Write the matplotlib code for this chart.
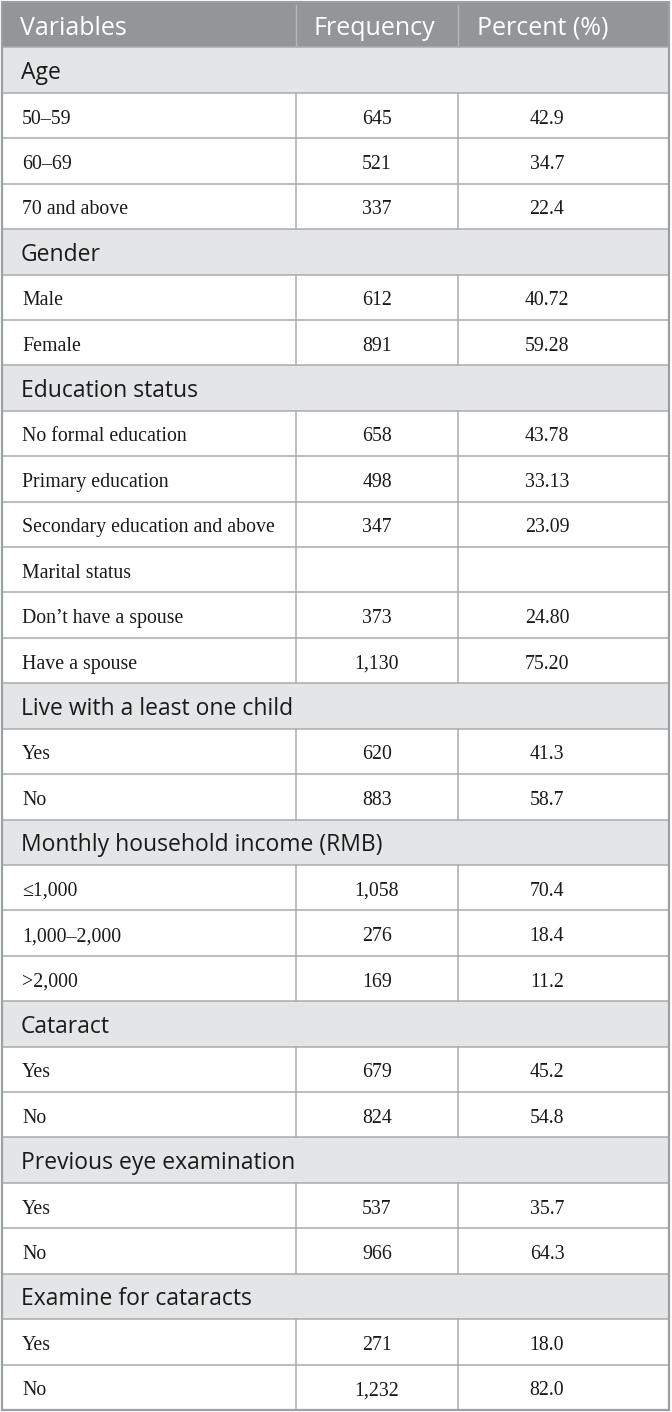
import matplotlib
matplotlib.use("Agg")
import matplotlib.pyplot as plt
from matplotlib.patches import Rectangle

# ---- data ----
header = ["Variables", "Frequency", "Percent (%)"]

age_labels = ["50–59", "60–69", "70 and above"]
age_freq = [645, 521, 337]
age_pct = ["42.9", "34.7", "22.4"]

gender_labels = ["Male", "Female"]
gender_freq = [612, 891]
gender_pct = ["40.72", "59.28"]

edu_labels = ["No formal education", "Primary education", "Secondary education and above"]
edu_freq = [658, 498, 347]
edu_pct = ["43.78", "33.13", "23.09"]

marital_labels = ["Marital status", "Don’t have a spouse", "Have a spouse"]
marital_freq = [None, 373, 1130]
marital_pct = ["", "24.80", "75.20"]

child_labels = ["Yes", "No"]
child_freq = [620, 883]
child_pct = ["41.3", "58.7"]

income_labels = ["≤1,000", "1,000–2,000", ">2,000"]
income_freq = [1058, 276, 169]
income_pct = ["70.4", "18.4", "11.2"]

cataract_labels = ["Yes", "No"]
cataract_freq = [679, 824]
cataract_pct = ["45.2", "54.8"]

prev_labels = ["Yes", "No"]
prev_freq = [537, 966]
prev_pct = ["35.7", "64.3"]

exam_labels = ["Yes", "No"]
exam_freq = [271, 1232]
exam_pct = ["18.0", "82.0"]

sections = [
    ("Age", age_labels, age_freq, age_pct),
    ("Gender", gender_labels, gender_freq, gender_pct),
    ("Education status", edu_labels, edu_freq, edu_pct),
    (None, marital_labels, marital_freq, marital_pct),
    ("Live with a least one child", child_labels, child_freq, child_pct),
    ("Monthly household income (RMB)", income_labels, income_freq, income_pct),
    ("Cataract", cataract_labels, cataract_freq, cataract_pct),
    ("Previous eye examination", prev_labels, prev_freq, prev_pct),
    ("Examine for cataracts", exam_labels, exam_freq, exam_pct),
]

# ---- build rows ----
rows = [("header", header)]
for title, labels, freq, pct in sections:
    if title is not None:
        rows.append(("section", title))
    for l, f, p in zip(labels, freq, pct):
        rows.append(("data", (l, "" if f is None else f"{f:,}", p)))

W, H = 672, 1412
fig = plt.figure(figsize=(W / 100, H / 100), dpi=100)
ax = fig.add_axes([0, 0, 1, 1])
ax.set_xlim(0, W)
ax.set_ylim(H, 0)
ax.axis("off")

SANS = ["Open Sans", "DejaVu Sans"]
SERIF = ["Liberation Serif", "DejaVu Serif"]
HEAD_BG = "#939598"
SEC_BG = "#e4e5e6"
LINE = "#a9abae"

x0, x1, x2, x3 = 2, 296, 458, 669
top, bottom = 2, 1410
n = len(rows)
rh = (bottom - top) / n

for i, (kind, content) in enumerate(rows):
    y = top + i * rh
    yc = y + rh / 2
    if kind == "header":
        ax.add_patch(Rectangle((x0, y), x3 - x0, rh, facecolor=HEAD_BG, edgecolor="none", zorder=1))
        for xv in (x1, x2):
            ax.plot([xv, xv], [y + 3, y + rh], color="#b4b6b8", lw=1.0, zorder=2)
        ty = yc + 3.5
        ax.text(20, ty, content[0], family=SANS, fontsize=18, color="white", va="center", ha="left", zorder=3)
        ax.text(x1 + 18, ty, content[1], family=SANS, fontsize=18, color="white", va="center", ha="left", zorder=3)
        ax.text(x2 + 19, ty, content[2], family=SANS, fontsize=18, color="white", va="center", ha="left", zorder=3)
    elif kind == "section":
        ax.add_patch(Rectangle((x0, y), x3 - x0, rh, facecolor=SEC_BG, edgecolor="none", zorder=1))
        ax.text(21, yc + 3, content, family=SANS, fontsize=16.5, color="#1a1a1a", va="center", ha="left", zorder=3)
    else:
        for xv in (x1, x2):
            ax.plot([xv, xv], [y, y + rh], color=LINE, lw=1.1, zorder=2)
        ty = yc + 3.5
        ax.text(22, ty, content[0], family=SERIF, fontsize=14.3, color="#1a1a1a", va="center", ha="left", zorder=3)
        ax.text(377, ty, content[1], family=SERIF, fontsize=14.3, color="#1a1a1a", va="center", ha="center", zorder=3)
        ax.text(547, ty, content[2], family=SERIF, fontsize=14.3, color="#1a1a1a", va="center", ha="center", zorder=3)
    if i > 0:
        ax.plot([x0, x3], [y, y], color=LINE, lw=1.1, zorder=2)

ax.add_patch(Rectangle((x0, top), x3 - x0, bottom - top, facecolor="none", edgecolor="#9aa0a3", lw=1.6, zorder=4))

fig.savefig("out.png", dpi=100)
